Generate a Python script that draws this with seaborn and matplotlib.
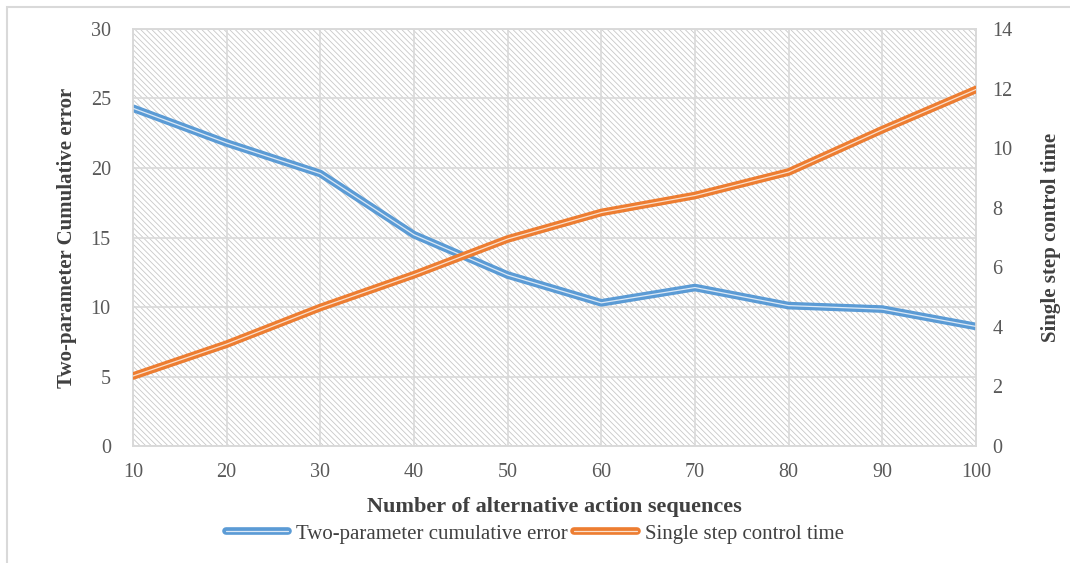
import numpy as np
import pandas as pd
import matplotlib
matplotlib.use('Agg')
import matplotlib.pyplot as plt
import matplotlib.patheffects as pe
from matplotlib.patches import Rectangle
from matplotlib.lines import Line2D
import seaborn as sns

# values
sequences = [10, 20, 30, 40, 50, 60, 70, 80, 90, 100]
cum_error = [24.3, 21.8, 19.6, 15.2, 12.3, 10.3, 11.4, 10.1, 9.85, 8.6]
step_time = [2.35, 3.42, 4.65, 5.75, 6.95, 7.84, 8.41, 9.2, 10.62, 11.97]

left_ticks = [0, 5, 10, 15, 20, 25, 30]
right_ticks = [0, 2, 4, 6, 8, 10, 12, 14]

blue = '#5b9bd5'
orange = '#ed7d31'
grid_c = '#d9d9d9'
tick_c = '#595959'
label_c = '#404040'

sns.set_style('white')
plt.rcParams['font.family'] = ['Liberation Serif', 'DejaVu Serif']
plt.rcParams['hatch.linewidth'] = 0.6

df = pd.DataFrame({'n': sequences, 'err': cum_error, 'time': step_time})

fig = plt.figure(figsize=(10.7, 5.63), dpi=100)
ax = fig.add_axes([0.1243, 0.2078, 0.7878, 0.7407])
ax2 = ax.twinx()

# hatched plot area
ax.add_patch(Rectangle((0, 0), 1, 1, transform=ax.transAxes, facecolor='white',
                       edgecolor='#c8c8c8', hatch='\\\\\\\\\\\\', lw=0, zorder=0))


def double_line(color):
    return [pe.SimpleLineShadow(offset=(1.2, -1.8), shadow_color='#555555', alpha=0.35),
            pe.Stroke(linewidth=5.5, foreground=color), pe.Normal()]


sns.lineplot(data=df, x='n', y='err', ax=ax, color='#dce9f6', lw=0.9,
             path_effects=double_line(blue), zorder=3)
sns.lineplot(data=df, x='n', y='time', ax=ax2, color='#fbe0cc', lw=0.9,
             path_effects=double_line(orange), zorder=3)

ax.set_xlim(10, 100)
ax.set_ylim(0, 30)
ax2.set_ylim(0, 14)
ax.set_xticks(sequences)
ax.set_yticks(left_ticks)
ax2.set_yticks(right_ticks)

ax.set_axisbelow(True)
ax.grid(True, color=grid_c, lw=1.2)
ax2.grid(False)
for a in (ax, ax2):
    for s in a.spines.values():
        s.set_color(grid_c)
        s.set_linewidth(1.2)
    a.tick_params(length=0, labelsize=14.5, colors=tick_c)
ax.tick_params(axis='x', pad=12)
ax.tick_params(axis='y', pad=16)
ax2.tick_params(axis='y', pad=12)

ax.set_xlabel('Number of alternative action sequences', fontsize=16,
              fontweight='bold', color=label_c, labelpad=11)
ax.set_ylabel('Two-parameter Cumulative error', fontsize=15,
              fontweight='bold', color=label_c, labelpad=10)
ax2.set_ylabel('Single step control time', fontsize=15,
               fontweight='bold', color=label_c, labelpad=20)

handles = [Line2D([], [], color='#dce9f6', lw=0.9, path_effects=double_line(blue)[1:]),
           Line2D([], [], color='#fbe0cc', lw=0.9, path_effects=double_line(orange)[1:])]
fig.legend(handles, ['Two-parameter cumulative error', 'Single step control time'],
           loc='center', bbox_to_anchor=(0.5, 0.052), ncol=2, frameon=False,
           fontsize=15, handlelength=3, handletextpad=0.4, columnspacing=0.3,
           labelcolor=label_c)

# chart area border
fig.patches.append(Rectangle((0.0065, -0.1), 1.2, 1.1 - 0.0125, transform=fig.transFigure,
                             fill=False, edgecolor=grid_c, lw=1.5))

fig.savefig('out.png', dpi=100)
